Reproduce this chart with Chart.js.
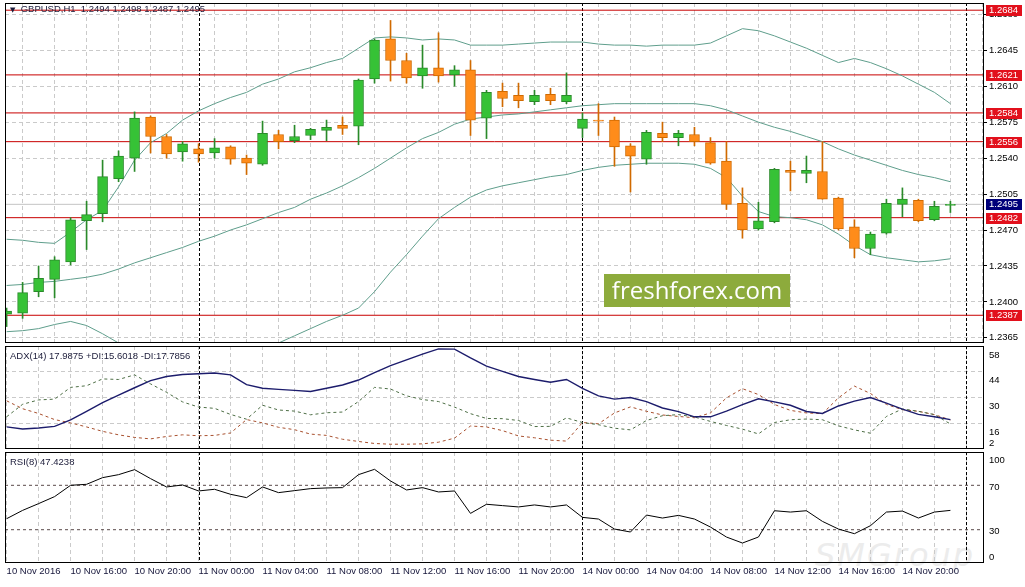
<!DOCTYPE html>
<html>
<head>
<meta charset="utf-8">
<title>GBPUSD H1</title>
<script src="https://cdn.jsdelivr.net/npm/chart.js@4.4.1/dist/chart.umd.min.js"></script>
<style>
  html, body { margin: 0; padding: 0; background: #fff; }
  #wrap { position: relative; width: 1025px; height: 587px; overflow: hidden; font-family: "Liberation Sans", Arial, sans-serif; }
  canvas { position: absolute; left: 0; }
  .hdr { position: absolute; left: 10px; font-size: 9.5px; line-height: 12px; color: #1c1c3a; white-space: pre; }
  .hdr .tri { font-family: "DejaVu Sans", sans-serif; font-size: 7px; }
  .ff { position: absolute; left: 604px; top: 274px; width: 186px; height: 33px; background: #8dab3c;
        color: #fff; font-family: "Open Sans", sans-serif; font-size: 24px; line-height: 32px; text-align: center; }
  .smg { position: absolute; left: 815px; top: 536px; font-family: "DejaVu Sans", sans-serif; font-size: 32px;
         font-style: italic; color: #ececec; letter-spacing: 2px; }
</style>
</head>
<body>
<div id="wrap">
  <div class="smg">SMGroup</div>
  <canvas id="main" width="1025" height="345" style="top:0"></canvas>
  <canvas id="adx" width="1025" height="105" style="top:345px"></canvas>
  <canvas id="rsi" width="1025" height="137" style="top:450px"></canvas>
  <div class="hdr" id="hdrMain" style="top:3px"></div>
  <div class="hdr" id="hdrAdx" style="top:350px"></div>
  <div class="hdr" id="hdrRsi" style="top:456px"></div>
  <div class="ff">freshforex.com</div>
</div>
<script>
// ---- data ----
const barTimes = [
  '10 Nov 12:00', '10 Nov 13:00', '10 Nov 14:00', '10 Nov 15:00', '10 Nov 16:00', '10 Nov 17:00',
  '10 Nov 18:00', '10 Nov 19:00', '10 Nov 20:00', '10 Nov 21:00', '10 Nov 22:00', '10 Nov 23:00',
  '11 Nov 00:00', '11 Nov 01:00', '11 Nov 02:00', '11 Nov 03:00', '11 Nov 04:00', '11 Nov 05:00',
  '11 Nov 06:00', '11 Nov 07:00', '11 Nov 08:00', '11 Nov 09:00', '11 Nov 10:00', '11 Nov 11:00',
  '11 Nov 12:00', '11 Nov 13:00', '11 Nov 14:00', '11 Nov 15:00', '11 Nov 16:00', '11 Nov 17:00',
  '11 Nov 18:00', '11 Nov 19:00', '11 Nov 20:00', '11 Nov 21:00', '11 Nov 22:00', '11 Nov 23:00',
  '14 Nov 00:00', '14 Nov 01:00', '14 Nov 02:00', '14 Nov 03:00', '14 Nov 04:00', '14 Nov 05:00',
  '14 Nov 06:00', '14 Nov 07:00', '14 Nov 08:00', '14 Nov 09:00', '14 Nov 10:00', '14 Nov 11:00',
  '14 Nov 12:00', '14 Nov 13:00', '14 Nov 14:00', '14 Nov 15:00', '14 Nov 16:00', '14 Nov 17:00',
  '14 Nov 18:00', '14 Nov 19:00', '14 Nov 20:00', '14 Nov 21:00', '14 Nov 22:00', '14 Nov 23:00'
];

const opens = [
  1.2388, 1.2389, 1.2410, 1.2422, 1.2439, 1.2479, 1.2486, 1.2520, 1.2540, 1.2580, 1.2561, 1.2546,
  1.2549, 1.2545, 1.2551, 1.2540, 1.2534, 1.2563, 1.2557, 1.2562, 1.2567, 1.2572, 1.2571, 1.2617,
  1.2656, 1.2635, 1.2620, 1.2628, 1.2621, 1.2626, 1.2579, 1.2605, 1.2601, 1.2595, 1.2602, 1.2595,
  1.2569, 1.2577, 1.2577, 1.2552, 1.2539, 1.2564, 1.2560, 1.2563, 1.2555, 1.2537, 1.2496, 1.2471,
  1.2478, 1.2528, 1.2525, 1.2527, 1.2501, 1.2473, 1.2452, 1.2467, 1.2495, 1.2499, 1.2480, 1.2494
];
const highs = [
  1.2394, 1.2419, 1.2435, 1.2444, 1.2482, 1.2498, 1.2538, 1.2547, 1.2585, 1.2581, 1.2563, 1.2556,
  1.2554, 1.2559, 1.2552, 1.2543, 1.2576, 1.2567, 1.2572, 1.2569, 1.2577, 1.2580, 1.2617, 1.2656,
  1.2674, 1.2642, 1.2650, 1.2662, 1.2630, 1.2635, 1.2606, 1.2613, 1.2613, 1.2606, 1.2608, 1.2623,
  1.2584, 1.2593, 1.2580, 1.2554, 1.2567, 1.2575, 1.2567, 1.2570, 1.2560, 1.2556, 1.2511, 1.2497,
  1.2530, 1.2537, 1.2542, 1.2556, 1.2502, 1.2480, 1.2468, 1.2500, 1.2511, 1.2500, 1.2498, 1.2498
];
const lows = [
  1.2376, 1.2384, 1.2405, 1.2404, 1.2436, 1.2451, 1.2478, 1.2517, 1.2527, 1.2545, 1.2540, 1.2537,
  1.2536, 1.2540, 1.2534, 1.2524, 1.2533, 1.2549, 1.2555, 1.2558, 1.2557, 1.2563, 1.2553, 1.2613,
  1.2615, 1.2613, 1.2608, 1.2614, 1.2610, 1.2562, 1.2559, 1.2590, 1.2589, 1.2592, 1.2592, 1.2593,
  1.2560, 1.2562, 1.2532, 1.2507, 1.2534, 1.2556, 1.2552, 1.2552, 1.2534, 1.2490, 1.2462, 1.2470,
  1.2477, 1.2508, 1.2516, 1.2500, 1.2470, 1.2443, 1.2446, 1.2466, 1.2483, 1.2478, 1.2479, 1.2487
];
const closes = [
  1.2391, 1.2409, 1.2423, 1.2441, 1.2480, 1.2485, 1.2522, 1.2542, 1.2579, 1.2561, 1.2544, 1.2554,
  1.2544, 1.2550, 1.2539, 1.2535, 1.2564, 1.2556, 1.2561, 1.2568, 1.2570, 1.2569, 1.2616, 1.2655,
  1.2635, 1.2618, 1.2628, 1.2620, 1.2626, 1.2577, 1.2604, 1.2598, 1.2596, 1.2601, 1.2596, 1.2601,
  1.2578, 1.2576, 1.2551, 1.2542, 1.2565, 1.2560, 1.2564, 1.2556, 1.2535, 1.2495, 1.2470, 1.2479,
  1.2529, 1.2526, 1.2528, 1.2500, 1.2471, 1.2452, 1.2466, 1.2496, 1.2500, 1.2479, 1.2493, 1.2495
];

const bbUpper = [
  1.2461, 1.2460, 1.2458, 1.2457, 1.2468, 1.2480, 1.2489, 1.2512, 1.2538, 1.2555, 1.2564, 1.2577,
  1.2586, 1.2593, 1.2599, 1.2604, 1.2612, 1.2617, 1.2624, 1.2628, 1.2633, 1.2637, 1.2647, 1.2657,
  1.2658, 1.2657, 1.2655, 1.2656, 1.2655, 1.2650, 1.2650, 1.2650, 1.2651, 1.2652, 1.2653, 1.2653,
  1.2653, 1.2651, 1.2650, 1.2650, 1.2649, 1.2650, 1.2650, 1.2650, 1.2652, 1.2659, 1.2666, 1.2664,
  1.2659, 1.2653, 1.2647, 1.2640, 1.2633, 1.2637, 1.2633, 1.2627, 1.2620, 1.2612, 1.2604, 1.2593
];
const bbMiddle = [
  1.2416, 1.2417, 1.2419, 1.2420, 1.2422, 1.2424, 1.2427, 1.2432, 1.2438, 1.2443, 1.2448, 1.2453,
  1.2459, 1.2464, 1.2470, 1.2475, 1.2481, 1.2487, 1.2492, 1.2500, 1.2506, 1.2513, 1.2521, 1.2530,
  1.2540, 1.2550, 1.2559, 1.2565, 1.2573, 1.2578, 1.2580, 1.2582, 1.2583, 1.2585, 1.2587, 1.2589,
  1.2591, 1.2592, 1.2593, 1.2593, 1.2593, 1.2593, 1.2593, 1.2593, 1.2591, 1.2587, 1.2581, 1.2575,
  1.2570, 1.2566, 1.2561, 1.2556, 1.2549, 1.2543, 1.2538, 1.2533, 1.2528, 1.2524, 1.2521, 1.2517
];
const bbLower = [
  1.2371, 1.2372, 1.2374, 1.2378, 1.2381, 1.2377, 1.2369, 1.2360, 1.2345, 1.2338, 1.2334, 1.2332,
  1.2333, 1.2336, 1.2341, 1.2346, 1.2352, 1.2360, 1.2367, 1.2374, 1.2381, 1.2387, 1.2394, 1.2410,
  1.2429, 1.2446, 1.2464, 1.2481, 1.2492, 1.2502, 1.2509, 1.2513, 1.2516, 1.2519, 1.2522, 1.2524,
  1.2528, 1.2531, 1.2533, 1.2534, 1.2535, 1.2535, 1.2535, 1.2534, 1.2530, 1.2521, 1.2503, 1.2488,
  1.2483, 1.2482, 1.2480, 1.2475, 1.2466, 1.2455, 1.2446, 1.2443, 1.2441, 1.2439, 1.2440, 1.2442
];

const levelPrices = [1.2684, 1.2621, 1.2584, 1.2556, 1.2482, 1.2387];
const bidPrice = 1.2495;
const priceTicks = [1.2365, 1.2400, 1.2435, 1.2470, 1.2505, 1.2540, 1.2575, 1.2610, 1.2645, 1.2680];

const adxLine = [
  14.0, 12.9, 13.4, 14.3, 17.8, 22.4, 27.2, 31.3, 35.3, 39.2, 41.4, 42.5,
  42.9, 43.3, 42.3, 37.0, 35.0, 34.4, 33.9, 33.3, 35.0, 36.8, 39.5, 43.5,
  47.3, 50.5, 53.6, 56.4, 56.3, 51.5, 47.1, 44.2, 41.4, 39.8, 38.3, 39.8,
  35.0, 30.9, 29.1, 30.0, 27.8, 24.3, 22.3, 19.5, 19.5, 22.6, 26.1, 29.3,
  27.6, 25.8, 22.4, 21.3, 25.4, 28.0, 30.0, 26.9, 23.7, 20.8, 19.5, 18.0
];
const plusDI = [
  19.5, 26.3, 28.7, 29.1, 35.5, 36.4, 40.1, 39.8, 42.3, 37.4, 32.8, 27.6,
  24.8, 24.1, 20.8, 18.2, 25.8, 23.2, 22.6, 20.6, 21.7, 22.1, 27.8, 35.5,
  34.6, 30.9, 28.9, 27.8, 24.8, 21.2, 18.6, 18.5, 17.5, 14.2, 14.3, 18.9,
  16.4, 15.2, 13.3, 12.4, 17.5, 20.1, 20.7, 19.4, 17.0, 14.8, 12.8, 10.2,
  16.4, 17.9, 18.3, 17.9, 14.6, 12.4, 10.6, 19.7, 23.8, 22.5, 20.7, 15.6
];
const minusDI = [
  28.2, 23.9, 21.3, 18.0, 16.2, 14.0, 11.6, 9.7, 8.3, 7.5, 8.8, 9.7,
  9.2, 9.4, 10.7, 18.0, 16.2, 13.8, 12.5, 10.1, 9.4, 7.3, 6.1, 5.0,
  4.6, 4.6, 4.8, 5.7, 7.9, 14.5, 14.0, 12.0, 9.1, 8.1, 6.8, 6.3,
  16.4, 15.7, 21.6, 24.9, 22.5, 20.5, 19.7, 19.0, 21.6, 29.8, 34.8, 31.6,
  26.2, 23.0, 21.6, 21.2, 29.8, 36.2, 32.2, 26.2, 23.4, 22.5, 20.7, 17.8
];
const adxTicks = [58, 44, 30, 16, 2];
const adxGrid = [16, 30, 44];

const rsiLine = [
  39.9, 47.4, 53.5, 59.8, 70.0, 70.9, 76.9, 79.6, 84.1, 76.0, 68.5, 70.3,
  64.9, 66.4, 61.9, 58.9, 68.5, 63.4, 65.2, 67.0, 67.6, 67.9, 79.6, 84.4,
  73.9, 65.8, 67.9, 64.0, 64.9, 44.7, 52.9, 51.7, 50.5, 52.3, 50.5, 52.3,
  41.1, 39.6, 30.6, 27.9, 43.2, 40.5, 42.9, 39.6, 32.4, 23.4, 18.0, 23.4,
  47.1, 45.9, 47.1, 37.5, 30.6, 26.4, 33.6, 45.9, 46.8, 40.5, 45.9, 47.4
];
const rsiLevels = [70, 30];
const rsiTicks = [100, 70, 30, 0];

// one label every 4 bars, starting at the first bar
const axisLabels = [
  '10 Nov 2016', '10 Nov 16:00', '10 Nov 20:00', '11 Nov 00:00', '11 Nov 04:00', '11 Nov 08:00',
  '11 Nov 12:00', '11 Nov 16:00', '11 Nov 20:00', '14 Nov 00:00', '14 Nov 04:00', '14 Nov 08:00',
  '14 Nov 12:00', '14 Nov 16:00', '14 Nov 20:00'
];
const daySeparators = [12, 36, 60]; // bar slots where a new day starts

const headerMain = 'GBPUSD,H1  ' + [opens, highs, lows, closes].map(a => a[a.length - 1].toFixed(4)).join(' ');
const headerAdx = 'ADX(14) 17.9875 +DI:15.6018 -DI:17.7856';
const headerRsi = 'RSI(8) 47.4238';

// ---- styles ----
const X_MIN = -0.1, X_MAX = 61.1;
const GRID = '#cacaca';
const UP_FILL = '#36c236', UP_EDGE = '#2a8a2a';
const DN_FILL = '#ff8c1a', DN_EDGE = '#d06a00';
const BAND = '#5f9e8c';
const FONT = { family: 'Liberation Sans', size: 9.5 };

document.getElementById('hdrMain').innerHTML = '<span class="tri">\u25BC</span>  ' + headerMain;
document.getElementById('hdrAdx').textContent = headerAdx;
document.getElementById('hdrRsi').textContent = headerRsi;

const isUp = (i) => closes[i] >= opens[i];
const series = (arr) => arr.map((v, i) => ({ x: i, y: v }));
const hLine = (v) => [{ x: X_MIN, y: v }, { x: X_MAX, y: v }];

function xScale(showLabels) {
  return {
    type: 'linear', min: X_MIN, max: X_MAX, offset: false,
    afterBuildTicks: (axis) => {
      const t = [];
      for (let k = 0; k <= 60; k += 2) t.push({ value: k });
      axis.ticks = t;
    },
    afterFit: (axis) => {
      axis.height = showLabels ? 18 : 0;
      axis.paddingLeft = 0;
      axis.paddingRight = 0;
    },
    grid: { color: GRID, drawTicks: false },
    border: { display: false, dash: [4, 3] },
    ticks: {
      display: showLabels, autoSkip: false, maxRotation: 0, minRotation: 0,
      align: 'start', padding: 3, color: '#15153a', font: FONT,
      callback: (v) => {
        const k = Math.round(v);
        return k % 4 === 0 ? (axisLabels[k / 4] || '') : '';
      }
    }
  };
}

// keep the plot area where it is, whatever the first and last tick labels need
const rightAxisFit = (axis) => {
  axis.width = 41;
  axis.paddingTop = 0;
  axis.paddingBottom = 0;
};

const framePlugin = {
  id: 'frame',
  afterDraw(chart) {
    const { ctx, chartArea: a } = chart;
    ctx.save();
    ctx.strokeStyle = '#000';
    ctx.lineWidth = 1;
    ctx.strokeRect(Math.round(a.left) + 0.5, Math.round(a.top) + 0.5,
      Math.round(a.right - a.left) - 1, Math.round(a.bottom - a.top) - 1);
    ctx.restore();
  }
};

const separatorPlugin = {
  id: 'daySep',
  beforeDatasetsDraw(chart) {
    const { ctx, chartArea: a, scales: { x } } = chart;
    ctx.save();
    ctx.strokeStyle = '#000';
    ctx.lineWidth = 1;
    ctx.setLineDash([3, 2]);
    daySeparators.forEach(k => {
      const px = Math.round(x.getPixelForValue(k)) + 0.5;
      ctx.beginPath();
      ctx.moveTo(px, a.top);
      ctx.lineTo(px, a.bottom);
      ctx.stroke();
    });
    ctx.restore();
  }
};

const priceTagPlugin = {
  id: 'priceTags',
  afterDraw(chart) {
    const { ctx, chartArea: a, scales: { y } } = chart;
    ctx.save();
    ctx.font = '9.5px "Liberation Sans"';
    ctx.textBaseline = 'middle';
    const tag = (v, bg) => {
      const py = Math.round(y.getPixelForValue(v));
      ctx.fillStyle = bg;
      ctx.fillRect(a.right + 2, py - 5, 36, 11);
      ctx.fillStyle = '#fff';
      ctx.fillText(v.toFixed(4), a.right + 5, py + 0.5);
    };
    levelPrices.forEach(v => tag(v, '#e2101c'));
    tag(bidPrice, '#00007a');
    ctx.restore();
  }
};

// labels of the indicator windows sit a little below their level, kept inside the window
const sideLabelPlugin = {
  id: 'sideLabels',
  afterDraw(chart, args, opts) {
    if (!opts.values) return;
    const { ctx, chartArea: a, scales: { y } } = chart;
    ctx.save();
    ctx.font = '9.5px "Liberation Sans"';
    ctx.fillStyle = '#000';
    ctx.textBaseline = 'middle';
    opts.values.forEach(v => {
      let py = y.getPixelForValue(v) + opts.offset;
      py = Math.min(Math.max(py, a.top + 8), a.bottom - 6);
      ctx.fillText(String(v), a.right + 5, py);
    });
    ctx.restore();
  }
};

const common = {
  responsive: false, animation: false, devicePixelRatio: 1, events: [],
  plugins: { legend: { display: false }, tooltip: { enabled: false } }
};

// ---- price window ----
new Chart(document.getElementById('main'), {
  type: 'bar',
  data: {
    datasets: [
      {
        type: 'bar', order: 0, grouped: false, barThickness: 10, borderWidth: 1,
        borderSkipped: false, minBarLength: 1,
        data: opens.map((o, i) => ({ x: i, y: [o, closes[i]] })),
        backgroundColor: (c) => isUp(c.dataIndex) ? UP_FILL : DN_FILL,
        borderColor: (c) => isUp(c.dataIndex) ? UP_EDGE : DN_EDGE
      },
      {
        type: 'bar', order: 1, grouped: false, barThickness: 1, borderWidth: 0,
        data: lows.map((l, i) => ({ x: i, y: [l, highs[i]] })),
        backgroundColor: (c) => isUp(c.dataIndex) ? UP_EDGE : DN_EDGE
      },
      { type: 'line', order: 2, data: series(bbUpper), borderColor: BAND, borderWidth: 1, pointRadius: 0 },
      { type: 'line', order: 2, data: series(bbMiddle), borderColor: BAND, borderWidth: 1, pointRadius: 0 },
      { type: 'line', order: 2, data: series(bbLower), borderColor: BAND, borderWidth: 1, pointRadius: 0 },
      ...levelPrices.map(v => ({
        type: 'line', order: 3, data: hLine(v), borderColor: '#c80000', borderWidth: 1, pointRadius: 0
      })),
      { type: 'line', order: 4, data: hLine(bidPrice), borderColor: '#c4c4c4', borderWidth: 1, pointRadius: 0 }
    ]
  },
  options: {
    ...common,
    layout: { padding: { left: 5, top: 3, right: 0, bottom: 2 } },
    scales: {
      x: xScale(false),
      y: {
        position: 'right', min: 1.2360, max: 1.2691,
        afterBuildTicks: (axis) => { axis.ticks = priceTicks.map(v => ({ value: v })); },
        afterFit: rightAxisFit,
        grid: { color: GRID, drawTicks: true, tickLength: 3, tickColor: '#000', tickBorderDash: [] },
        border: { display: false, dash: [4, 3] },
        ticks: { color: '#000', padding: 2, font: FONT, callback: (v) => Number(v).toFixed(4) }
      }
    }
  },
  plugins: [separatorPlugin, priceTagPlugin, framePlugin]
});

// ---- ADX window ----
new Chart(document.getElementById('adx'), {
  type: 'line',
  data: {
    datasets: [
      { data: series(adxLine), borderColor: '#1c1c6c', borderWidth: 1.4, pointRadius: 0 },
      { data: series(plusDI), borderColor: '#4d6e45', borderWidth: 1, borderDash: [3, 3], pointRadius: 0 },
      { data: series(minusDI), borderColor: '#a8502e', borderWidth: 1, borderDash: [3, 3], pointRadius: 0 }
    ]
  },
  options: {
    ...common,
    layout: { padding: { left: 5, top: 1, right: 0, bottom: 1 } },
    plugins: { ...common.plugins, sideLabels: { values: adxTicks, offset: 9 } },
    scales: {
      x: xScale(false),
      y: {
        position: 'right', min: 2, max: 58,
        afterBuildTicks: (axis) => { axis.ticks = adxGrid.map(v => ({ value: v })); },
        afterFit: rightAxisFit,
        grid: { color: GRID, drawTicks: false },
        border: { display: false, dash: [4, 3] },
        ticks: { display: false }
      }
    }
  },
  plugins: [separatorPlugin, sideLabelPlugin, framePlugin]
});

// ---- RSI window ----
new Chart(document.getElementById('rsi'), {
  type: 'line',
  data: {
    datasets: [
      { data: series(rsiLine), borderColor: '#000', borderWidth: 1, pointRadius: 0 },
      ...rsiLevels.map(v => ({
        data: hLine(v), borderColor: '#5a4a4a', borderWidth: 1, borderDash: [3, 3], pointRadius: 0
      }))
    ]
  },
  options: {
    ...common,
    layout: { padding: { left: 5, top: 2, right: 0, bottom: 6 } },
    plugins: { ...common.plugins, sideLabels: { values: rsiTicks, offset: 2 } },
    scales: {
      x: xScale(true),
      y: {
        position: 'right', min: 0, max: 100,
        afterFit: rightAxisFit,
        grid: { display: false },
        border: { display: false },
        ticks: { display: false }
      }
    }
  },
  plugins: [separatorPlugin, sideLabelPlugin, framePlugin]
});
</script>
</body>
</html>
